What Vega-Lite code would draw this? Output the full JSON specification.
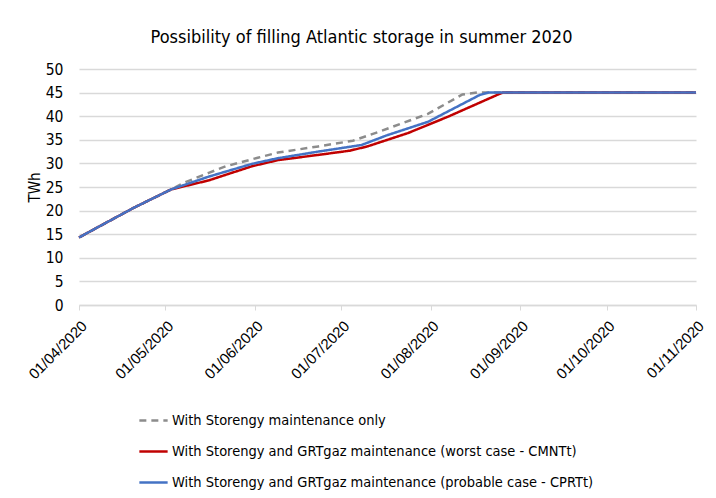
{
  "$schema": "https://vega.github.io/schema/vega-lite/v6.json",
  "autosize": {"type": "none"},
  "width": 617,
  "height": 236,
  "padding": {"left": 79, "top": 69, "right": 20, "bottom": 193},
  "background": "white",
  "title": {
    "text": "Possibility of filling Atlantic storage in summer 2020",
    "font": "DejaVu Sans Condensed, sans-serif",
    "fontSize": 18,
    "fontWeight": "normal",
    "color": "#000000",
    "anchor": "middle",
    "dx": -26,
    "offset": 15
  },
  "config": {
    "view": {"stroke": null},
    "font": "DejaVu Sans Condensed, sans-serif"
  },
  "data": {
    "values": [
      {"series": "With Storengy maintenance only", "date": "2020-04-01", "twh": 14.3},
      {"series": "With Storengy maintenance only", "date": "2020-04-10", "twh": 17.3},
      {"series": "With Storengy maintenance only", "date": "2020-04-20", "twh": 20.6},
      {"series": "With Storengy maintenance only", "date": "2020-04-27", "twh": 22.7},
      {"series": "With Storengy maintenance only", "date": "2020-05-03", "twh": 24.5},
      {"series": "With Storengy maintenance only", "date": "2020-05-07", "twh": 25.8},
      {"series": "With Storengy maintenance only", "date": "2020-05-16", "twh": 28.0},
      {"series": "With Storengy maintenance only", "date": "2020-05-22", "twh": 29.4},
      {"series": "With Storengy maintenance only", "date": "2020-06-02", "twh": 31.2},
      {"series": "With Storengy maintenance only", "date": "2020-06-09", "twh": 32.3},
      {"series": "With Storengy maintenance only", "date": "2020-06-23", "twh": 33.6},
      {"series": "With Storengy maintenance only", "date": "2020-07-05", "twh": 34.8},
      {"series": "With Storengy maintenance only", "date": "2020-07-14", "twh": 36.7},
      {"series": "With Storengy maintenance only", "date": "2020-07-31", "twh": 40.5},
      {"series": "With Storengy maintenance only", "date": "2020-08-12", "twh": 44.6},
      {"series": "With Storengy maintenance only", "date": "2020-08-17", "twh": 45.0},
      {"series": "With Storengy maintenance only", "date": "2020-11-01", "twh": 45.0},
      {"series": "With Storengy and GRTgaz maintenance (worst case - CMNTt)", "date": "2020-04-01", "twh": 14.3},
      {"series": "With Storengy and GRTgaz maintenance (worst case - CMNTt)", "date": "2020-04-10", "twh": 17.3},
      {"series": "With Storengy and GRTgaz maintenance (worst case - CMNTt)", "date": "2020-04-20", "twh": 20.6},
      {"series": "With Storengy and GRTgaz maintenance (worst case - CMNTt)", "date": "2020-04-27", "twh": 22.7},
      {"series": "With Storengy and GRTgaz maintenance (worst case - CMNTt)", "date": "2020-05-03", "twh": 24.5},
      {"series": "With Storengy and GRTgaz maintenance (worst case - CMNTt)", "date": "2020-05-16", "twh": 26.4},
      {"series": "With Storengy and GRTgaz maintenance (worst case - CMNTt)", "date": "2020-05-31", "twh": 29.4},
      {"series": "With Storengy and GRTgaz maintenance (worst case - CMNTt)", "date": "2020-06-09", "twh": 30.7},
      {"series": "With Storengy and GRTgaz maintenance (worst case - CMNTt)", "date": "2020-06-23", "twh": 31.8},
      {"series": "With Storengy and GRTgaz maintenance (worst case - CMNTt)", "date": "2020-07-04", "twh": 32.7},
      {"series": "With Storengy and GRTgaz maintenance (worst case - CMNTt)", "date": "2020-07-10", "twh": 33.6},
      {"series": "With Storengy and GRTgaz maintenance (worst case - CMNTt)", "date": "2020-07-24", "twh": 36.4},
      {"series": "With Storengy and GRTgaz maintenance (worst case - CMNTt)", "date": "2020-08-07", "twh": 39.9},
      {"series": "With Storengy and GRTgaz maintenance (worst case - CMNTt)", "date": "2020-08-24", "twh": 44.5},
      {"series": "With Storengy and GRTgaz maintenance (worst case - CMNTt)", "date": "2020-08-26", "twh": 45.0},
      {"series": "With Storengy and GRTgaz maintenance (worst case - CMNTt)", "date": "2020-11-01", "twh": 45.0},
      {"series": "With Storengy and GRTgaz maintenance (probable case - CPRTt)", "date": "2020-04-01", "twh": 14.3},
      {"series": "With Storengy and GRTgaz maintenance (probable case - CPRTt)", "date": "2020-04-10", "twh": 17.3},
      {"series": "With Storengy and GRTgaz maintenance (probable case - CPRTt)", "date": "2020-04-20", "twh": 20.6},
      {"series": "With Storengy and GRTgaz maintenance (probable case - CPRTt)", "date": "2020-04-27", "twh": 22.7},
      {"series": "With Storengy and GRTgaz maintenance (probable case - CPRTt)", "date": "2020-05-03", "twh": 24.5},
      {"series": "With Storengy and GRTgaz maintenance (probable case - CPRTt)", "date": "2020-05-16", "twh": 27.2},
      {"series": "With Storengy and GRTgaz maintenance (probable case - CPRTt)", "date": "2020-05-31", "twh": 29.9},
      {"series": "With Storengy and GRTgaz maintenance (probable case - CPRTt)", "date": "2020-06-09", "twh": 31.1},
      {"series": "With Storengy and GRTgaz maintenance (probable case - CPRTt)", "date": "2020-06-23", "twh": 32.5},
      {"series": "With Storengy and GRTgaz maintenance (probable case - CPRTt)", "date": "2020-07-08", "twh": 33.9},
      {"series": "With Storengy and GRTgaz maintenance (probable case - CPRTt)", "date": "2020-07-17", "twh": 36.0},
      {"series": "With Storengy and GRTgaz maintenance (probable case - CPRTt)", "date": "2020-07-31", "twh": 38.8},
      {"series": "With Storengy and GRTgaz maintenance (probable case - CPRTt)", "date": "2020-08-18", "twh": 44.5},
      {"series": "With Storengy and GRTgaz maintenance (probable case - CPRTt)", "date": "2020-08-21", "twh": 45.0},
      {"series": "With Storengy and GRTgaz maintenance (probable case - CPRTt)", "date": "2020-11-01", "twh": 45.0}
    ]
  },
  "mark": {"type": "line", "strokeWidth": 2.5, "strokeCap": "butt"},
  "encoding": {
    "x": {
      "field": "date",
      "type": "temporal",
      "scale": {"type": "utc", "domain": [{"year": 2020, "month": 4, "date": 1, "utc": true}, {"year": 2020, "month": 11, "date": 1, "utc": true}], "nice": false},
      "axis": {
        "title": null,
        "format": "%d/%m/%Y",
        "tickCount": {"interval": "month", "step": 1},
        "labelAngle": -45,
        "labelFontSize": 15,
        "labelColor": "#000000",
        "labelFont": "Liberation Sans, sans-serif",
        "labelPadding": 8,
        "domainColor": "#d9d9d9",
        "domainWidth": 1.5,
        "tickColor": "#d9d9d9",
        "tickSize": 5,
        "grid": false,
        "labelOverlap": false,
        "labelFlush": false
      }
    },
    "y": {
      "field": "twh",
      "type": "quantitative",
      "scale": {"domain": [0, 50], "nice": false},
      "axis": {
        "title": "TWh",
        "titleFontSize": 15,
        "titleFontWeight": "normal",
        "titleColor": "#000000",
        "titlePadding": 3,
        "values": [0, 5, 10, 15, 20, 25, 30, 35, 40, 45, 50],
        "labelFontSize": 15.5,
        "labelColor": "#000000",
        "labelPadding": 16,
        "ticks": false,
        "domain": false,
        "gridColor": "#d9d9d9",
        "gridWidth": 1.5
      }
    },
    "color": {
      "field": "series",
      "type": "nominal",
      "scale": {
        "domain": ["With Storengy maintenance only", "With Storengy and GRTgaz maintenance (worst case - CMNTt)", "With Storengy and GRTgaz maintenance (probable case - CPRTt)"],
        "range": ["#8c8c8c", "#c00000", "#4472c4"]
      },
      "legend": {
        "title": null,
        "orient": "none",
        "legendX": 59,
        "legendY": 336,
        "direction": "vertical",
        "symbolType": "stroke",
        "symbolSize": 800,
        "symbolStrokeWidth": 2.5,
        "labelFontSize": 14.5,
        "labelColor": "#000000",
        "labelLimit": 600,
        "labelOffset": 3,
        "rowPadding": 9
      }
    },
    "strokeDash": {
      "field": "series",
      "type": "nominal",
      "scale": {
        "domain": ["With Storengy maintenance only", "With Storengy and GRTgaz maintenance (worst case - CMNTt)", "With Storengy and GRTgaz maintenance (probable case - CPRTt)"],
        "range": [[7, 5], [1, 0], [1, 0]]
      },
      "legend": null
    }
  }
}
